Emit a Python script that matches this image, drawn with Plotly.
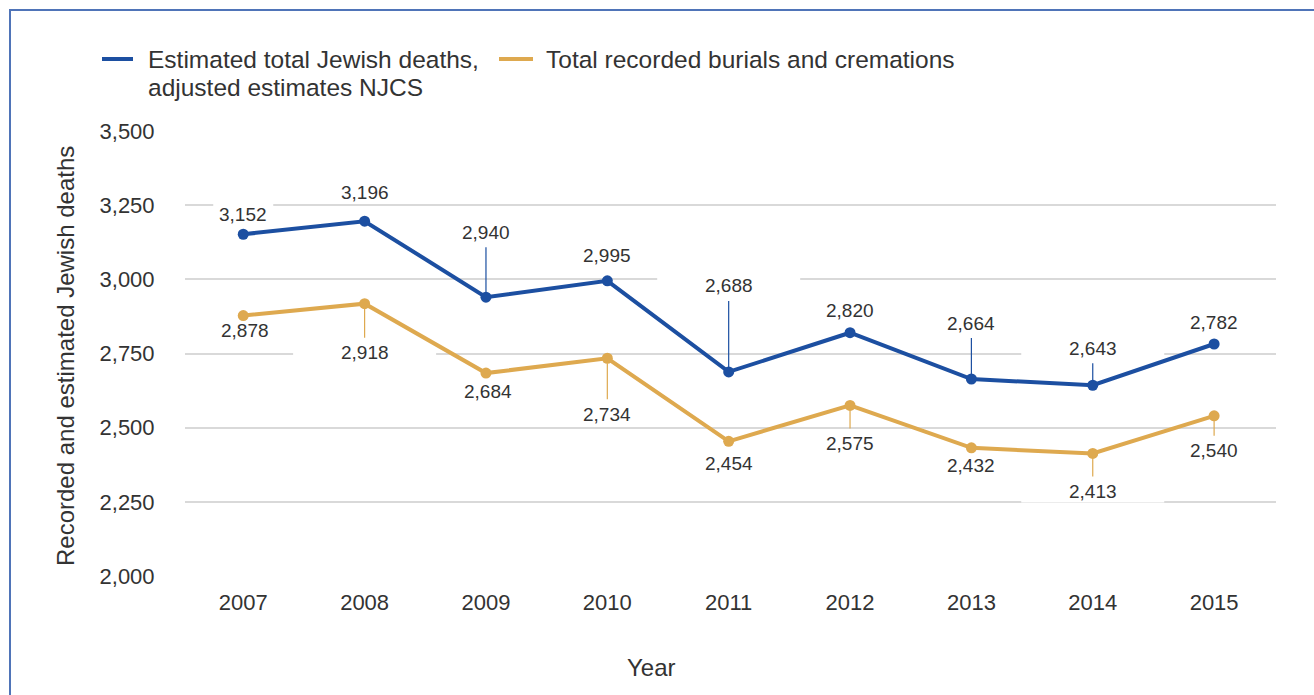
import plotly.graph_objects as go

# ---- data ----
years = [2007, 2008, 2009, 2010, 2011, 2012, 2013, 2014, 2015]
estimated_deaths = [3152, 3196, 2940, 2995, 2688, 2820, 2664, 2643, 2782]
recorded_burials = [2878, 2918, 2684, 2734, 2454, 2575, 2432, 2413, 2540]
y_ticks = [2000, 2250, 2500, 2750, 3000, 3250, 3500]

series_names = ["Estimated total Jewish deaths,", "adjusted estimates NJCS",
                "Total recorded burials and cremations"]

# ---- label placement (pixel offsets from each point; + is downward) ----
est_label_dy = [-20, -29, -65, -25, -86, -22, -56, -37, -22]
est_leader = [False, False, True, False, True, False, True, True, False]
rec_label_dy = [15, 49, 18, 56, 22, 38, 18, 38, 35]
rec_label_dx = [2, 0, 2, 0, 0, 0, 0, 0, 0]
rec_leader = [False, True, False, True, False, True, False, True, True]

BLUE = "#1c4fa1"
GOLD = "#dea94f"
TEXT = "#333333"
GRID = "#d9d9d9"
FRAME = "#4f74b8"
FONT = "Liberation Sans, Arial, sans-serif"

# plot area in pixels (used for paper-coordinate conversions)
W, H = 1314, 695
L, R, T, B = 185, 38, 131, 119
PW, PH = W - L - R, H - T - B


def px_x(px):
    return (px - L) / PW


def px_y(py):
    return (H - B - py) / PH


fig = go.Figure()

fig.add_trace(go.Scatter(
    x=years, y=estimated_deaths, mode="lines+markers",
    line=dict(color=BLUE, width=4), marker=dict(color=BLUE, size=11),
    showlegend=False, hoverinfo="x+y"))
fig.add_trace(go.Scatter(
    x=years, y=recorded_burials, mode="lines+markers",
    line=dict(color=GOLD, width=4), marker=dict(color=GOLD, size=11),
    showlegend=False, hoverinfo="x+y"))

shapes = []
annotations = []


def add_labels(values, dys, dxs, leaders, color):
    for yr, v, dy, dx, lead in zip(years, values, dys, dxs, leaders):
        text = f"{v:,}"
        mw = 143 if lead else 60
        # white backing box: hides gridlines behind the label but sits under the lines
        shapes.append(dict(
            type="rect", layer="between", xref="x", yref="y",
            xsizemode="pixel", ysizemode="pixel", xanchor=yr, yanchor=v,
            x0=dx - mw / 2, x1=dx + mw / 2, y0=-dy - 11, y1=-dy + 11,
            fillcolor="white", line=dict(width=0)))
        if lead:
            annotations.append(dict(
                x=yr, y=v, xref="x", yref="y", text=text, showarrow=True,
                ax=dx, ay=dy, axref="pixel", ayref="pixel",
                arrowhead=0, arrowwidth=1.2, arrowcolor=color,
                standoff=5, startstandoff=3,
                font=dict(family=FONT, size=19, color=TEXT)))
        else:
            annotations.append(dict(
                x=yr, y=v, xref="x", yref="y", text=text, showarrow=False,
                xshift=dx, yshift=-dy, xanchor="center", yanchor="middle",
                font=dict(family=FONT, size=19, color=TEXT)))


add_labels(estimated_deaths, est_label_dy, [0] * len(years), est_leader, BLUE)
add_labels(recorded_burials, rec_label_dy, rec_label_dx, rec_leader, GOLD)

# legend
shapes.append(dict(type="line", xref="paper", yref="paper",
                   x0=px_x(102), x1=px_x(133), y0=px_y(59), y1=px_y(59),
                   line=dict(color=BLUE, width=4)))
shapes.append(dict(type="line", xref="paper", yref="paper",
                   x0=px_x(499), x1=px_x(533), y0=px_y(59), y1=px_y(59),
                   line=dict(color=GOLD, width=4)))
for txt, x, y in [(series_names[0], 146, 59), (series_names[1], 146, 87),
                  (series_names[2], 544, 59)]:
    annotations.append(dict(
        x=px_x(x), y=px_y(y), xref="paper", yref="paper", text=txt,
        showarrow=False, xanchor="left", yanchor="middle",
        font=dict(family=FONT, size=24.5, color=TEXT)))

# axis titles
annotations.append(dict(
    x=px_x(65), y=px_y(356), xref="paper", yref="paper",
    text="Recorded and estimated Jewish deaths", textangle=-90,
    showarrow=False, xanchor="center", yanchor="middle",
    font=dict(family=FONT, size=24, color=TEXT)))
annotations.append(dict(
    x=px_x(651), y=px_y(667), xref="paper", yref="paper", text="Year",
    showarrow=False, xanchor="center", yanchor="middle",
    font=dict(family=FONT, size=24, color=TEXT)))

# outer frame
shapes.append(dict(type="rect", xref="paper", yref="paper",
                   x0=px_x(10), x1=px_x(1340), y0=px_y(10), y1=px_y(720),
                   line=dict(color=FRAME, width=2), fillcolor="rgba(0,0,0,0)"))

fig.update_layout(
    width=W, height=H,
    margin=dict(l=L, r=R, t=T, b=B, pad=0),
    plot_bgcolor="white", paper_bgcolor="white",
    shapes=shapes, annotations=annotations,
    xaxis=dict(
        range=[2006.52, 2015.51], tickmode="array", tickvals=years,
        ticktext=[str(y) for y in years], showgrid=False, zeroline=False,
        showline=False, ticks="outside", ticklen=7,
        tickcolor="rgba(0,0,0,0)",
        tickfont=dict(family=FONT, size=22, color=TEXT)),
    yaxis=dict(
        range=[2000, 3500], tickmode="array", tickvals=y_ticks,
        tickformat=",", showgrid=True, gridcolor=GRID, gridwidth=1.5,
        zeroline=False, showline=False, ticks="outside", ticklen=25,
        tickcolor="rgba(0,0,0,0)",
        tickfont=dict(family=FONT, size=22, color=TEXT)),
)

fig.write_html("out.html")
